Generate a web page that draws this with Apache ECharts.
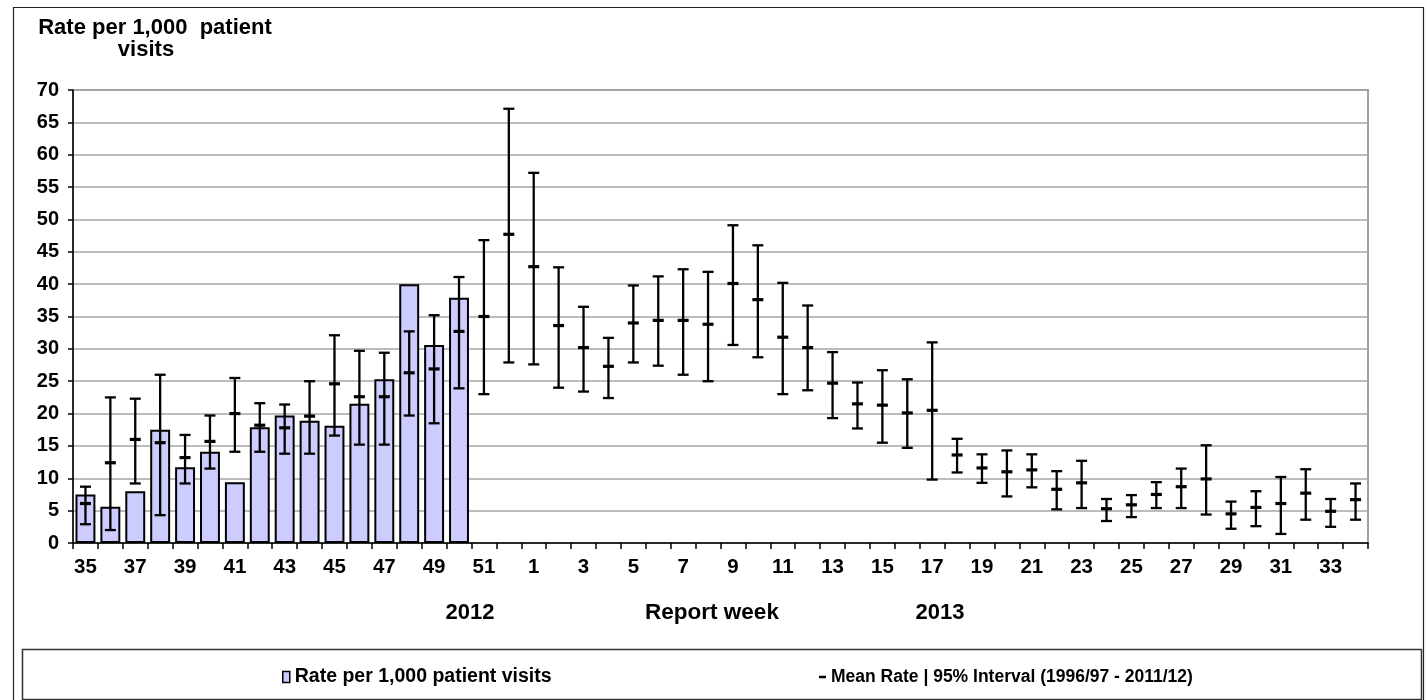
<!DOCTYPE html>
<html>
<head>
<meta charset="utf-8">
<script src="https://cdn.jsdelivr.net/npm/echarts@6/dist/echarts.min.js"></script>
<style>
html,body{margin:0;padding:0;background:#fff;}
#chart{width:1427px;height:700px;}
</style>
</head>
<body>
<div id="chart"></div>
<script>
// Report weeks: 35..52 (2012), 1..34 (2013)
const weeks = ['35','36','37','38','39','40','41','42','43','44','45','46','47','48','49','50','51','52',
  '1','2','3','4','5','6','7','8','9','10','11','12','13','14','15','16','17','18','19','20','21','22','23','24','25','26','27','28','29','30','31','32','33','34'];

// Current-season rate per 1,000 patient visits (weeks 35-50 reported)
const rate = [7.5,5.6,8.0,17.5,11.7,14.1,9.4,17.9,19.7,18.9,18.1,21.5,25.3,40.0,30.6,37.9,
  null,null,null,null,null,null,null,null,null,null,null,null,null,null,null,null,null,null,null,null,
  null,null,null,null,null,null,null,null,null,null,null,null,null,null,null,null];

// Historical mean rate (1996/97 - 2011/12)
const meanRate = [6.1,12.4,16.0,15.5,13.2,15.7,20.0,18.2,17.8,19.6,24.6,22.6,22.6,26.3,26.9,32.7,35.0,47.7,
  42.7,33.6,30.2,27.3,34.0,34.4,34.4,33.8,40.1,37.6,31.8,30.2,24.7,21.5,21.3,20.1,20.5,13.6,11.6,11.0,11.3,
  8.3,9.3,5.3,5.9,7.5,8.7,9.9,4.5,5.5,6.1,7.7,4.9,6.7];

// 95% interval lower bound
const lower95 = [2.9,2.0,9.2,4.3,9.2,11.5,14.1,14.1,13.8,13.8,16.6,15.2,15.2,19.7,18.5,23.9,23.0,27.9,
  27.6,24.0,23.4,22.4,27.9,27.4,26.0,25.0,30.6,28.7,23.0,23.6,19.3,17.7,15.5,14.7,9.8,10.9,9.3,7.2,8.6,
  5.2,5.4,3.4,4.0,5.4,5.4,4.4,2.2,2.6,1.4,3.6,2.5,3.6];

// 95% interval upper bound
const upper95 = [8.7,22.5,22.3,26.0,16.7,19.7,25.5,21.6,21.4,25.0,32.1,29.7,29.4,32.7,35.2,41.1,46.8,67.1,
  57.2,42.6,36.5,31.7,39.8,41.2,42.3,41.9,49.1,46.0,40.2,36.7,29.5,24.8,26.7,25.3,31.0,16.1,13.7,14.3,13.7,
  11.1,12.7,6.8,7.4,9.4,11.5,15.1,6.4,8.0,10.2,11.4,6.8,9.2];

const yTicks = {min: 0, max: 70, interval: 5};

const FONT = "'Liberation Sans', Arial, sans-serif";
const errData = weeks.map((w, i) => [i, lower95[i], meanRate[i], upper95[i]]);

const chart = echarts.init(document.getElementById('chart'), null, {renderer: 'canvas'});

chart.setOption({
  animation: false,
  backgroundColor: '#fff',
  grid: {left: 73, right: 59, top: 90, bottom: 157, show: true, borderColor: '#a0a0a0', borderWidth: 2, backgroundColor: '#fff'},
  xAxis: {
    type: 'category',
    data: weeks,
    boundaryGap: true,
    axisLine: {show: true, lineStyle: {color: '#000', width: 1.5}},
    axisTick: {show: true, interval: 0, length: 6, lineStyle: {color: '#000', width: 1.5}},
    axisLabel: {interval: 1, margin: 14, color: '#000', fontFamily: FONT, fontWeight: 'bold', fontSize: 20.5},
    splitLine: {show: false}
  },
  yAxis: {
    type: 'value',
    min: yTicks.min, max: yTicks.max, interval: yTicks.interval,
    axisLine: {show: true, lineStyle: {color: '#000', width: 1.5}},
    axisTick: {show: true, length: 5, lineStyle: {color: '#000', width: 1.5}},
    axisLabel: {margin: 14, color: '#000', fontFamily: FONT, fontWeight: 'bold', fontSize: 20},
    splitLine: {show: true, lineStyle: {color: '#a6a6a6', width: 1.5}}
  },
  legend: [
    {
      data: [{name: 'Rate per 1,000 patient visits', icon: 'rect'}],
      left: 277, top: 662, itemWidth: 7, itemHeight: 11,
      itemStyle: {borderColor: '#000', borderWidth: 1.5},
      textStyle: {color: '#000', fontFamily: FONT, fontWeight: 'bold', fontSize: 19.5},
      selectedMode: false
    },
    {
      data: [{name: 'Mean Rate | 95% Interval (1996/97 - 2011/12)', icon: 'rect', itemStyle: {color: '#000'}}],
      left: 814, top: 663, itemWidth: 7, itemHeight: 2.5,
      textStyle: {color: '#000', fontFamily: FONT, fontWeight: 'bold', fontSize: 17.5},
      selectedMode: false
    }
  ],
  graphic: [
    {type: 'rect', left: 11, top: 5, shape: {width: 1410, height: 720}, style: {fill: 'none', stroke: '#222', lineWidth: 1.2}, silent: true, z: -10},
    {type: 'rect', left: 20, top: 647, shape: {width: 1399, height: 50}, style: {fill: 'none', stroke: '#333', lineWidth: 1.5}, silent: true},
    {type: 'text', style: {x: 155, y: 28, align: 'center', verticalAlign: 'middle', text: 'Rate per 1,000  patient', fill: '#000', font: 'bold 22px ' + FONT}},
    {type: 'text', style: {x: 146, y: 50, align: 'center', verticalAlign: 'middle', text: 'visits', fill: '#000', font: 'bold 22px ' + FONT}},
    {type: 'text', style: {x: 470, y: 613, align: 'center', verticalAlign: 'middle', text: '2012', fill: '#000', font: 'bold 22px ' + FONT}},
    {type: 'text', style: {x: 712, y: 613, align: 'center', verticalAlign: 'middle', text: 'Report week', fill: '#000', font: 'bold 22.5px ' + FONT}},
    {type: 'text', style: {x: 940, y: 613, align: 'center', verticalAlign: 'middle', text: '2013', fill: '#000', font: 'bold 22px ' + FONT}}
  ],
  series: [
    {
      name: 'Rate per 1,000 patient visits',
      type: 'bar',
      data: rate,
      barWidth: '80%',
      itemStyle: {color: '#ccccff', borderColor: '#000', borderWidth: 2},
      z: 2
    },
    {
      name: 'Mean Rate | 95% Interval (1996/97 - 2011/12)',
      type: 'custom',
      data: errData,
      itemStyle: {color: '#000'},
      encode: {x: 0, y: [1, 2, 3]},
      z: 5,
      renderItem: function (params, api) {
        const idx = api.value(0);
        const x = api.coord([idx, 0])[0];
        const lo = api.coord([idx, api.value(1)])[1];
        const mid = api.coord([idx, api.value(2)])[1];
        const hi = api.coord([idx, api.value(3)])[1];
        const c = 5.5;
        const st = {stroke: '#000', lineWidth: 2.3};
        return {
          type: 'group',
          children: [
            {type: 'line', shape: {x1: x, y1: hi, x2: x, y2: lo}, style: st},
            {type: 'line', shape: {x1: x - c, y1: hi, x2: x + c, y2: hi}, style: st},
            {type: 'line', shape: {x1: x - c, y1: lo, x2: x + c, y2: lo}, style: st},
            {type: 'line', shape: {x1: x - 5.5, y1: mid, x2: x + 5.5, y2: mid}, style: {stroke: '#000', lineWidth: 3.2}}
          ]
        };
      }
    }
  ]
});
</script>
</body>
</html>
